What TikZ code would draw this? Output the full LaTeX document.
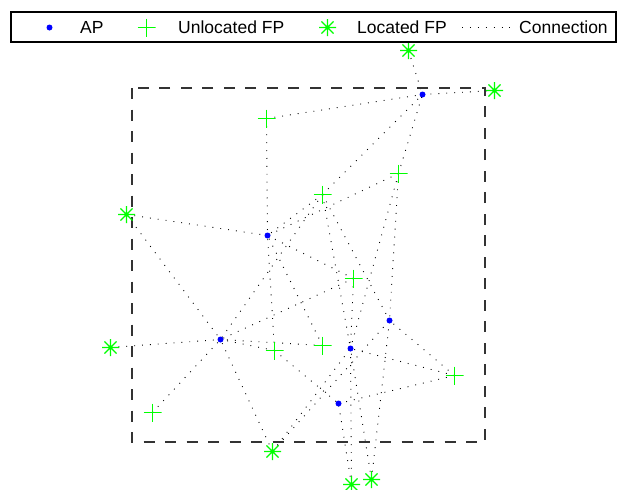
\documentclass[tikz,border=0pt]{standalone}
\usepackage{fontspec}
\setmainfont{Liberation Sans}
\pgfdeclarelayer{background}
\pgfsetlayers{background,main}
\definecolor{fpgreen}{RGB}{0,255,0}
\definecolor{apblue}{RGB}{0,0,255}
\tikzset{
  apdot/.style={circle, fill=apblue, draw=none, inner sep=0pt, minimum size=6pt},
  plusfp/.style={rectangle, draw=none, inner sep=0pt, minimum size=18pt,
    path picture={\draw[fpgreen, line width=1.2pt]
      (path picture bounding box.north) -- (path picture bounding box.south)
      (path picture bounding box.west) -- (path picture bounding box.east);}},
  starfp/.style={rectangle, draw=none, inner sep=0pt, minimum size=18pt,
    path picture={\draw[fpgreen, line width=1.2pt]
      ([shift={(0:8.5pt)}]path picture bounding box.center) -- ([shift={(180:8.5pt)}]path picture bounding box.center)
      ([shift={(90:8.5pt)}]path picture bounding box.center) -- ([shift={(270:8.5pt)}]path picture bounding box.center)
      ([shift={(45:8.5pt)}]path picture bounding box.center) -- ([shift={(225:8.5pt)}]path picture bounding box.center)
      ([shift={(135:8.5pt)}]path picture bounding box.center) -- ([shift={(315:8.5pt)}]path picture bounding box.center);}},
  conn/.style={black, line width=0.9pt, dash pattern=on 0.9pt off 7pt},
  areabox/.style={black!80, line width=1.3pt, dash pattern=on 11pt off 10.5pt},
  legtext/.style={anchor=west, inner sep=0pt, font=\fontsize{17.5}{20}\selectfont},
}
\begin{document}
\begin{tikzpicture}[x=1pt, y=-1pt]
\useasboundingbox (0,0) rectangle (622,490);

% area box
\coordinate (bx1) at (132,88);
\coordinate (bx2) at (485,442);
\draw[areabox] (bx1) rectangle (bx2);

% access points
\node[apdot] (A1) at (422.5,94.5) {};
\node[apdot] (A2) at (267.5,235.5) {};
\node[apdot] (A3) at (220.5,339.5) {};
\node[apdot] (A4) at (389.5,320.5) {};
\node[apdot] (A5) at (350.5,348.5) {};
\node[apdot] (A6) at (338.5,403.5) {};

% unlocated FPs
\node[plusfp] (U1) at (266.5,118.5) {};
\node[plusfp] (U2) at (322.5,194.5) {};
\node[plusfp] (U3) at (398.5,173.5) {};
\node[plusfp] (U4) at (353.5,278.5) {};
\node[plusfp] (U5) at (274.5,350.5) {};
\node[plusfp] (U6) at (322.5,345.5) {};
\node[plusfp] (U7) at (454.5,375.5) {};
\node[plusfp] (U8) at (152.5,412.5) {};

% located FPs
\node[starfp] (L1) at (408.5,50.5) {};
\node[starfp] (L2) at (494.5,90.5) {};
\node[starfp] (L3) at (126.5,214.5) {};
\node[starfp] (L4) at (110.5,347.5) {};
\node[starfp] (L5) at (272.5,451.5) {};
\node[starfp] (L6) at (351.5,484.5) {};
\node[starfp] (L7) at (371.5,479.5) {};

% connections
\begin{pgfonlayer}{background}
\foreach \f/\a in {L1/A1, L2/A1, U1/A1, U1/A2, U2/A1, U3/A1, U3/A2, U2/A2,
  L3/A2, L3/A3, L4/A3, U8/A3, L5/A3, U2/A3, U4/A3, U6/A3, U5/A3,
  U5/A2, U4/A2, U6/A2, U3/A4, U3/A5, U2/A4, U2/A5,
  U7/A4, U7/A5, U7/A6, L5/A4, L5/A5, U5/A6, L6/A5, L6/A6,
  L7/A4, L7/A5, U4/A5}
  \draw[conn] (\f.center) -- (\a.center);
\end{pgfonlayer}

% legend
\coordinate (lg1) at (11,12);
\coordinate (lg2) at (616,42);
\draw[black, line width=1.2pt, fill=white] (lg1) rectangle (lg2);
\node[apdot] (legAP) at (49.5,27.5) {};
\node[legtext] (tAP) at (80,27.5) {AP};
\node[plusfp] (legU) at (146.5,27.5) {};
\node[legtext] (tU) at (178,27.5) {Unlocated FP};
\node[starfp] (legL) at (327.5,27.5) {};
\node[legtext] (tL) at (357,27.5) {Located FP};
\coordinate (lc1) at (462,27.5);
\coordinate (lc2) at (512,27.5);
\draw[conn] (lc1) -- (lc2);
\node[legtext] (tC) at (519,27.5) {Connection};
\end{tikzpicture}
\end{document}
